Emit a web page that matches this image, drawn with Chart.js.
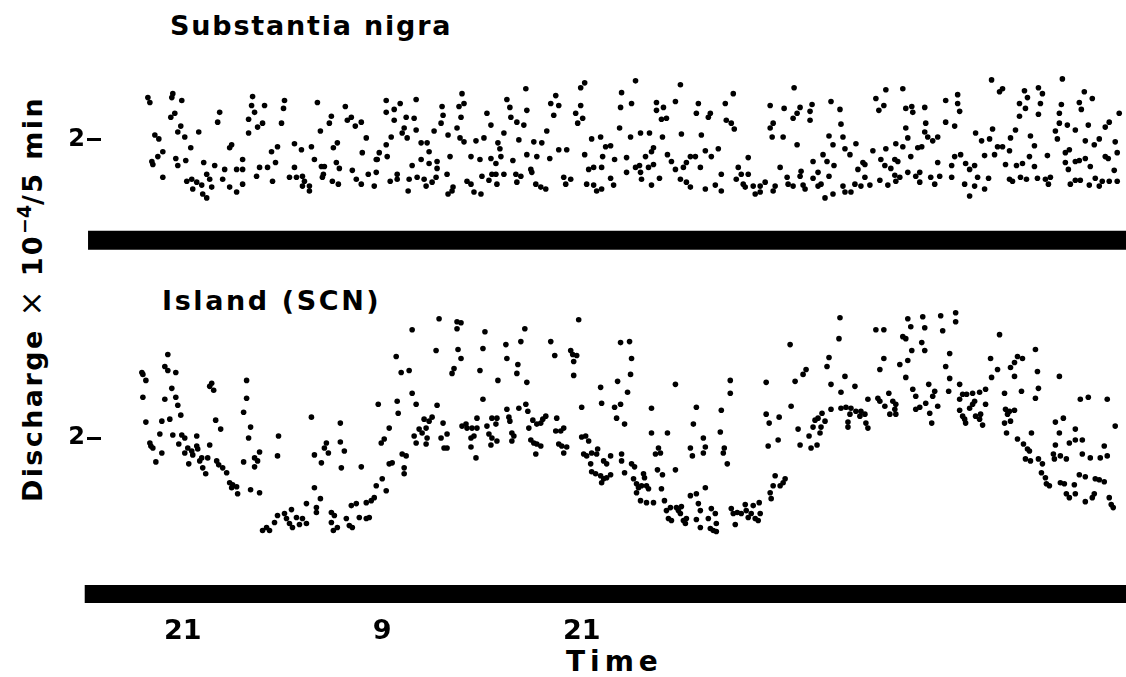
<!DOCTYPE html>
<html>
<head>
<meta charset="utf-8">
<script src="https://cdn.jsdelivr.net/npm/chart.js@4"></script>
<style>
  body { margin: 0; background: #fff; width: 1126px; height: 677px; position: relative; overflow: hidden; }
  canvas { position: absolute; left: 0; }
  #nigraChart { top: 0; }
  #scnChart { top: 265px; }
  .txt { position: absolute; font: bold 27px "DejaVu Sans", sans-serif; color: #000; white-space: nowrap; line-height: 1; letter-spacing: 1.8px; }
  #ylab { left: 31px; top: 299px; transform: translate(-50%, -50%) rotate(-90deg); letter-spacing: 2.4px; }
  #ylab sup { font-size: 0.7em; vertical-align: 0.55em; letter-spacing: 0; }
  #ylab .times { font-weight: normal; font-size: 1.15em; }
</style>
</head>
<body>
<div class="txt" style="left:170px; top:12px;">Substantia nigra</div>
<div class="txt" style="left:162px; top:287px; letter-spacing:2.6px;">Island (SCN)</div>
<div class="txt" id="ylab">Discharge <span class="times">×</span> 10<sup>−4</sup>/5 min</div>
<div class="txt" style="left:566px; top:648px; font-size:28px; letter-spacing:5px;">Time</div>
<canvas id="nigraChart" width="1126" height="265"></canvas>
<canvas id="scnChart" width="1126" height="412"></canvas>
<script>
// hours after 21:00 of the first evening, discharge x 10^-4 per 5 min
const nigraPoints = [
  [-2.10,2.43],[-1.98,2.38],[-0.60,2.47],[-0.66,2.43],[-0.06,2.40],[-0.48,2.27],[-0.72,2.23],[-0.12,2.14],[-0.30,2.08],[0.12,2.03],
  [-1.68,2.05],[-1.44,2.01],[0.96,2.08],[2.22,2.28],[2.10,2.18],[0.48,1.92],[-1.20,1.88],[-1.50,1.83],[-1.86,1.78],[-1.80,1.75],
  [-0.42,1.81],[0.18,1.79],[-0.30,1.74],[-1.20,1.62],[0.24,1.58],[0.54,1.60],[0.84,1.57],[1.14,1.54],[0.60,1.50],[1.20,1.45],
  [1.44,1.41],[1.26,1.77],[1.44,1.65],[1.62,1.60],[1.74,1.52],[1.92,1.74],[2.40,1.60],[2.52,1.70],[2.82,1.52],[3.24,1.47],
  [3.60,1.55],[3.60,1.70],[3.24,1.70],[2.82,1.92],[2.94,1.95],[3.60,1.80],[4.20,2.44],[4.14,2.35],[4.32,2.28],[3.96,2.21],
  [4.50,2.13],[3.96,2.07],[4.80,2.17],[4.92,2.35],[4.44,1.63],[4.62,1.72],[5.10,1.72],[5.40,1.58],[5.34,1.88],[5.70,1.93],
  [5.58,1.77],[6.12,2.40],[6.06,2.32],[5.94,2.17],[6.72,1.96],[7.14,1.90],[6.72,1.72],[6.42,1.62],[6.84,1.62],[7.20,1.63],
  [7.32,1.58],[7.20,1.53],[7.62,1.53],[7.62,1.48],[7.74,1.93],[7.92,1.80],[8.34,1.73],[8.52,1.73],[8.10,2.38],[8.28,2.09],
  [8.40,1.62],[8.46,1.65],[8.94,2.24],[8.82,2.17],[9.06,1.92],[9.30,1.97],[9.24,1.77],[9.42,1.71],[9.00,1.58],[9.36,1.55],
  [9.78,2.34],[9.90,2.20],[10.14,2.23],[10.38,2.14],[10.74,2.18],[11.04,2.02],[10.80,1.87],[10.20,1.69],[10.44,1.60],[10.74,1.55],
  [11.16,1.65],[11.52,1.53],[11.64,1.80],[12.24,2.40],[12.72,2.31],[13.08,2.37],[12.24,2.28],[14.04,2.41],[13.44,2.23],[13.92,2.22],
  [12.72,2.20],[13.32,2.12],[13.20,2.07],[13.50,2.02],[14.04,2.10],[12.54,2.03],[12.24,1.95],[11.82,1.87],[11.70,1.80],[12.30,1.83],
  [11.64,1.67],[12.90,1.65],[12.48,1.58],[12.90,1.60],[13.62,1.60],[13.56,1.48],[14.10,1.62],[14.52,1.60],[14.64,1.53],[15.00,1.57],
  [15.24,1.62],[14.34,1.97],[14.70,1.97],[14.82,1.88],[14.34,1.80],[14.82,1.76],[15.30,1.78],[15.30,1.71],[13.80,1.74],[15.12,2.09],
  [15.60,2.34],[15.66,2.25],[15.54,2.17],[15.96,2.05],[15.90,1.65],[15.96,1.45],[16.26,1.52],[16.20,1.48],[16.08,1.83],[16.80,2.47],
  [16.62,2.34],[16.92,2.37],[16.74,2.23],[16.50,2.12],[16.68,2.02],[16.92,1.98],[17.34,1.83],[17.10,1.58],[17.34,1.55],[17.52,1.47],
  [17.94,1.45],[17.64,1.99],[18.12,2.02],[17.88,1.80],[18.00,1.63],[18.42,1.59],[18.30,2.27],[18.54,2.15],[18.60,1.65],[18.84,1.65],
  [18.90,1.55],[18.54,1.81],[18.84,1.76],[19.14,1.83],[18.96,1.97],[19.08,1.91],[19.32,2.07],[19.32,1.65],[19.50,2.41],[19.68,2.33],
  [19.74,2.23],[20.10,2.18],[20.52,2.15],[20.70,2.30],[20.64,2.52],[20.22,2.00],[19.86,1.79],[20.04,1.65],[20.34,1.63],[20.10,1.57],
  [20.70,1.85],[20.94,1.70],[21.00,1.67],[21.30,1.83],[21.12,1.98],[21.60,1.97],[21.24,1.55],[21.54,1.52],[21.84,1.50],[21.90,2.09],
  [22.08,1.81],[22.14,2.37],[22.44,2.45],[22.62,2.35],[22.32,2.25],[22.62,1.90],[23.10,1.90],[22.92,1.62],[23.04,1.55],[23.34,1.60],
  [23.94,2.35],[23.64,2.27],[24.06,2.22],[23.76,2.17],[23.94,2.53],[24.18,2.58],[24.18,1.85],[24.42,1.70],[24.72,1.72],[25.20,1.72],
  [24.30,1.55],[24.72,1.54],[24.90,1.48],[25.20,1.50],[24.60,2.01],[25.14,2.03],[25.44,1.93],[25.74,1.94],[25.26,1.83],[25.98,1.80],
  [25.74,1.61],[25.92,1.54],[26.28,2.12],[26.40,2.48],[26.34,2.33],[27.24,2.60],[27.00,2.37],[26.94,2.03],[27.54,2.07],[28.08,2.07],
  [26.70,1.82],[27.84,1.83],[28.20,1.88],[28.32,1.92],[27.24,1.72],[27.48,1.74],[27.54,1.67],[26.70,1.67],[28.02,1.72],[28.32,1.75],
  [27.60,1.60],[28.20,1.54],[28.68,1.61],[28.50,2.38],[28.50,2.30],[28.92,2.33],[28.80,2.21],[29.10,2.22],[28.86,2.03],[29.16,1.85],
  [29.40,1.78],[29.64,2.39],[29.94,2.56],[30.00,2.06],[29.64,1.70],[30.12,1.72],[29.94,1.60],[30.30,1.57],[30.54,1.52],[30.30,1.77],
  [30.54,1.83],[30.84,1.83],[31.02,2.37],[30.90,2.27],[31.20,2.05],[31.44,1.89],[31.80,1.83],[32.22,1.91],[31.14,1.72],[31.44,1.50],
  [32.04,1.54],[32.40,1.48],[31.74,2.27],[31.62,2.23],[32.64,2.37],[33.12,2.47],[32.70,2.20],[33.00,2.17],[33.18,2.11],[32.40,1.65],
  [33.42,1.72],[33.30,1.60],[33.60,1.65],[33.72,1.55],[34.02,1.65],[34.02,1.82],[33.84,1.52],[34.32,1.53],[34.44,1.45],[34.74,1.53],
  [34.74,1.47],[35.04,1.57],[35.64,1.53],[35.52,1.48],[35.94,1.72],[35.34,2.35],[35.52,2.17],[35.34,2.12],[35.46,2.03],[36.12,2.03],
  [36.18,2.32],[36.36,1.62],[36.42,1.55],[36.72,1.53],[36.72,2.22],[36.96,2.27],[36.78,2.53],[37.14,2.33],[36.96,1.95],[37.20,1.68],
  [37.14,1.63],[37.32,1.54],[37.44,1.50],[37.74,2.29],[37.86,2.36],[37.74,2.20],[37.92,1.78],[37.92,1.61],[38.22,1.67],[38.22,1.53],
  [38.40,1.55],[38.52,1.85],[38.88,1.63],[38.64,1.41],[38.76,1.78],[39.18,1.74],[39.00,2.39],[39.54,2.31],[39.60,2.16],[39.12,1.95],
  [38.88,2.04],[39.72,2.03],[39.84,1.91],[40.14,1.85],[40.50,1.96],[39.12,1.45],[39.84,1.47],[40.20,1.47],[39.72,1.53],[40.44,1.55],
  [40.62,1.70],[40.92,1.77],[41.04,1.62],[40.80,1.53],[41.70,2.42],[42.30,2.51],[42.18,2.35],[41.88,2.30],[43.32,2.52],[43.50,2.32],
  [43.86,2.34],[43.92,2.28],[44.64,2.33],[44.70,2.17],[43.50,2.12],[44.64,2.08],[43.62,2.02],[44.82,2.03],[45.12,1.99],[45.42,2.03],
  [41.52,1.89],[42.30,1.91],[42.90,1.96],[43.32,1.93],[44.22,1.92],[44.46,1.93],[43.80,1.83],[41.04,1.75],[41.34,1.54],[41.94,1.59],
  [42.42,1.54],[42.00,1.80],[42.24,1.74],[42.84,1.80],[43.02,1.78],[42.60,1.71],[42.84,1.64],[43.14,1.62],[42.90,1.58],[43.62,1.67],
  [44.10,1.63],[44.34,1.67],[44.34,1.57],[45.00,1.62],[45.24,1.55],[45.54,1.63],[45.42,1.77],[46.26,1.74],[46.44,1.83],[46.80,1.85],
  [46.26,1.62],[47.04,1.55],[47.64,1.53],[47.82,1.62],[48.24,1.50],[47.34,1.43],[48.48,1.61],[47.34,1.70],[47.64,1.74],[47.10,1.76],
  [45.90,2.40],[46.62,2.46],[46.62,2.37],[46.74,2.29],[45.90,2.18],[46.44,2.14],[47.70,2.07],[48.06,1.99],[48.54,2.01],[48.72,2.11],
  [48.66,2.61],[49.14,2.49],[49.32,2.52],[49.02,1.93],[49.32,1.93],[49.74,1.89],[48.24,1.84],[48.84,1.85],[49.50,1.75],[49.74,1.60],
  [49.92,1.58],[50.40,1.62],[50.76,1.60],[50.16,1.74],[50.52,1.76],[50.94,1.83],[51.24,1.94],[49.80,2.02],[50.10,2.10],[50.34,2.24],
  [50.70,2.32],[50.34,2.37],[50.64,2.50],[50.82,2.43],[51.48,2.53],[51.72,2.47],[51.60,2.37],[51.48,2.26],[51.00,2.04],[52.02,1.84],
  [51.24,1.73],[51.90,1.60],[52.20,1.62],[52.08,1.55],[51.42,1.61],[52.92,2.62],[52.86,2.36],[52.74,2.27],[52.74,2.17],[52.50,2.09],
  [52.62,2.01],[53.22,2.15],[53.70,2.10],[53.10,1.87],[53.34,1.90],[53.10,1.77],[53.70,1.78],[53.94,1.79],[53.28,1.70],[53.40,1.55],
  [53.70,1.59],[54.00,1.59],[54.54,1.54],[54.90,1.61],[55.14,1.53],[55.32,1.58],[54.24,2.49],[54.72,2.42],[53.94,2.38],[54.06,2.31],
  [54.48,2.15],[54.30,1.99],[54.84,1.95],[55.14,2.01],[54.30,1.81],[54.60,1.73],[55.50,1.83],[55.68,1.81],[55.74,2.18],[56.34,2.27],
  [55.50,2.13],[56.10,1.98],[56.22,1.87],[56.04,1.69],[56.22,1.58],[55.74,1.58]
];

const scnPoints = [
  [-0.90,2.84],[-1.08,2.72],[-0.90,2.68],[-0.42,2.66],[-2.46,2.66],[-2.40,2.64],[-2.22,2.58],[-0.66,2.50],[-2.40,2.41],[-1.08,2.39],
  [-0.42,2.41],[-0.30,2.33],[-0.12,2.23],[-2.22,2.16],[-1.26,2.17],[-0.78,2.19],[-1.38,2.04],[-0.60,2.03],[-0.24,1.94],[-0.06,2.03],
  [0.12,2.00],[-1.98,1.95],[-1.80,1.90],[-1.92,1.92],[-1.26,1.85],[-1.62,1.76],[0.30,1.90],[0.54,1.87],[0.84,1.92],[0.90,1.89],
  [0.84,2.02],[0.12,1.85],[0.60,1.83],[1.14,1.80],[1.50,1.80],[1.62,1.93],[0.36,1.74],[1.02,1.77],[1.20,1.70],[1.38,1.64],
  [2.04,1.77],[2.16,1.73],[2.40,1.70],[2.64,1.65],[1.74,2.55],[1.62,2.52],[1.86,2.48],[1.98,2.18],[2.28,2.09],[2.82,1.55],
  [3.00,1.53],[3.24,1.51],[3.30,1.44],[2.94,1.50],[4.08,1.48],[4.62,1.45],[3.84,2.58],[3.84,2.40],[3.66,2.26],[4.08,2.11],
  [3.96,2.00],[3.66,1.76],[4.32,1.80],[4.50,1.77],[4.62,1.86],[4.32,1.71],[5.76,2.02],[5.70,1.82],[7.74,2.21],[8.64,1.95],
  [8.52,1.90],[8.76,1.85],[9.48,2.15],[9.48,1.96],[9.72,1.87],[7.92,1.83],[8.34,1.75],[9.54,1.70],[10.74,1.71],[7.92,1.50],
  [8.28,1.39],[7.44,1.34],[8.04,1.30],[8.04,1.25],[6.54,1.28],[6.12,1.24],[5.70,1.22],[5.52,1.15],[4.80,1.07],[5.04,1.10],
  [5.22,1.07],[6.24,1.19],[6.42,1.14],[6.84,1.20],[7.20,1.19],[7.02,1.13],[7.44,1.14],[6.60,1.10],[8.94,1.25],[9.12,1.22],
  [8.94,1.15],[9.06,1.07],[9.30,1.10],[9.84,1.19],[10.02,1.12],[10.20,1.10],[10.14,1.32],[10.44,1.34],[10.62,1.20],[11.04,1.19],
  [11.22,1.20],[11.04,1.35],[11.34,1.37],[11.52,1.40],[11.64,1.52],[11.76,2.34],[12.24,1.47],[12.00,1.59],[12.12,1.99],[11.94,1.95],
  [12.42,2.10],[12.84,2.82],[13.14,2.66],[13.62,2.68],[13.80,3.09],[12.90,2.37],[12.96,2.25],[13.80,2.45],[14.04,2.34],[12.42,1.74],
  [12.60,1.75],[13.20,1.84],[13.44,1.82],[13.32,1.70],[13.32,1.64],[13.92,2.02],[14.04,1.95],[14.22,2.09],[14.40,2.05],[14.64,2.10],
  [14.70,2.00],[14.64,1.94],[14.82,2.17],[15.00,2.21],[14.52,2.19],[15.30,2.33],[15.66,2.15],[15.54,2.00],[15.90,2.04],[15.24,2.88],
  [15.42,3.20],[16.20,2.65],[16.32,2.70],[16.50,3.17],[16.74,3.16],[16.50,3.10],[16.56,2.89],[16.74,2.80],[15.72,1.90],[15.90,1.90],
  [16.80,2.12],[17.10,2.10],[17.40,2.10],[17.70,2.10],[17.04,2.14],[17.34,2.00],[17.52,2.02],[17.34,1.91],[17.64,1.80],[17.70,2.20],
  [17.88,2.68],[18.06,2.39],[18.06,2.90],[18.18,3.07],[18.30,2.12],[18.42,2.04],[18.60,2.00],[18.90,1.97],[18.54,1.93],[18.60,2.20],
  [18.90,2.20],[18.84,2.14],[18.96,2.58],[19.44,2.94],[19.50,2.80],[19.50,2.29],[19.62,2.21],[19.68,2.17],[19.80,2.05],[19.92,2.02],
  [19.80,1.97],[20.22,2.30],[20.10,2.65],[20.16,2.74],[20.34,2.97],[20.58,3.10],[20.70,2.56],[20.64,2.34],[20.76,2.27],[21.06,2.18],
  [21.30,2.14],[21.54,2.15],[21.66,2.19],[21.84,2.22],[20.82,2.10],[20.94,1.98],[21.12,1.95],[21.30,1.94],[21.54,1.92],[21.24,1.84],
  [22.14,2.97],[22.38,2.83],[22.50,2.20],[22.44,2.07],[22.74,2.07],[22.92,2.10],[22.62,1.94],[22.80,1.92],[23.10,1.91],[22.92,1.85],
  [23.34,2.88],[23.46,2.84],[23.70,2.83],[23.52,2.77],[23.52,2.63],[23.82,3.19],[24.00,2.31],[24.00,2.01],[24.24,2.02],[24.42,1.97],
  [24.12,1.84],[24.30,1.82],[24.60,1.85],[24.90,1.84],[24.54,1.74],[24.60,1.66],[24.84,1.64],[25.14,1.62],[25.32,1.59],[25.50,1.60],
  [25.20,1.55],[24.96,1.89],[25.32,1.77],[25.50,1.74],[25.74,1.82],[25.74,1.63],[25.14,2.51],[25.20,2.35],[25.98,2.31],[26.10,2.20],
  [26.34,2.34],[26.16,2.57],[26.34,2.96],[26.40,1.84],[26.40,1.77],[26.88,2.97],[27.00,2.80],[26.94,2.64],[26.76,2.46],[26.58,2.14],
  [26.58,1.65],[27.00,1.74],[27.18,1.71],[27.12,1.59],[27.30,1.54],[27.42,1.50],[27.60,1.52],[27.90,1.52],[28.02,1.49],[27.30,1.45],
  [27.72,1.64],[27.78,1.60],[27.54,1.37],[27.90,1.35],[28.32,1.35],[28.20,2.30],[28.20,2.05],[29.16,2.05],[29.64,2.54],[28.62,1.90],
  [28.44,1.84],[28.74,1.85],[28.56,1.68],[28.86,1.63],[28.80,1.49],[29.64,1.68],[28.98,1.37],[29.10,1.27],[29.34,1.30],[29.22,1.19],
  [29.40,1.17],[29.70,1.30],[29.82,1.27],[30.00,1.31],[29.94,1.24],[30.12,1.17],[30.30,1.19],[30.24,1.14],[30.54,1.42],[30.90,1.44],
  [31.02,1.34],[31.14,1.27],[30.90,1.18],[31.14,1.10],[31.44,1.50],[31.62,1.19],[31.80,1.29],[32.04,1.24],[32.10,1.14],[31.74,1.09],
  [31.92,1.07],[32.10,1.06],[30.90,2.31],[30.72,2.14],[30.54,1.90],[30.66,1.82],[31.32,2.00],[31.44,1.91],[31.32,1.85],[32.40,2.28],
  [32.34,2.06],[32.58,1.90],[32.52,1.85],[32.76,1.74],[32.94,2.58],[32.94,2.45],[33.00,1.29],[33.12,1.24],[33.36,1.25],[33.60,1.24],
  [33.84,1.33],[33.90,1.27],[34.02,1.20],[34.20,1.24],[34.44,1.19],[34.74,1.24],[34.62,1.17],[33.24,1.13],[34.32,1.32],[34.68,1.35],
  [35.40,1.39],[35.34,1.45],[35.52,1.52],[35.64,1.62],[35.94,1.52],[36.12,1.55],[36.24,1.59],[35.10,2.56],[35.10,2.24],[35.28,2.15],
  [35.22,1.92],[35.82,1.98],[35.88,2.21],[36.54,2.94],[36.60,2.32],[36.84,2.57],[37.32,2.64],[37.50,2.69],[37.02,2.09],[37.14,1.93],
  [37.68,2.02],[37.80,1.90],[38.16,1.93],[37.92,2.11],[38.34,2.05],[38.40,2.11],[38.04,2.18],[38.22,2.20],[38.64,2.17],[38.46,2.25],
  [39.00,2.29],[38.76,2.72],[38.88,2.81],[39.00,2.54],[39.48,3.00],[39.54,3.21],[39.84,2.62],[39.60,2.46],[40.44,2.52],[39.60,2.30],
  [39.90,2.31],[40.20,2.30],[40.50,2.27],[40.80,2.27],[41.04,2.24],[40.74,2.22],[40.14,2.24],[40.02,2.16],[40.02,2.11],[41.22,2.39],
  [41.10,2.15],[41.22,2.10],[41.70,3.09],[42.18,3.09],[41.82,2.40],[41.94,2.37],[42.24,2.32],[42.48,2.45],[42.72,2.37],[42.90,2.34],
  [42.84,2.29],[42.54,2.24],[42.90,2.24],[41.94,2.69],[42.18,2.80],[43.62,3.20],[43.80,3.12],[44.52,3.22],[44.64,3.11],[45.60,3.23],
  [45.72,3.08],[46.50,3.26],[46.50,3.17],[43.32,3.02],[43.50,3.00],[44.46,2.96],[44.64,2.88],[43.86,2.88],[43.62,2.78],[43.14,2.74],
  [43.50,2.61],[43.92,2.49],[44.10,2.42],[44.88,2.54],[44.10,2.29],[44.34,2.31],[44.70,2.35],[44.94,2.25],[45.12,2.42],[45.24,2.47],
  [45.42,2.32],[45.06,2.15],[45.90,2.72],[46.14,2.85],[46.14,2.60],[46.08,2.47],[46.74,2.54],[46.92,2.44],[47.16,2.44],[47.52,2.45],
  [47.94,2.46],[48.30,2.49],[46.74,2.28],[46.92,2.22],[47.04,2.19],[47.34,2.30],[47.52,2.34],[47.64,2.37],[47.70,2.22],[48.00,2.24],
  [47.94,2.19],[48.12,2.13],[48.30,2.34],[47.10,2.15],[46.74,2.39],[48.60,2.80],[48.66,2.61],[49.02,2.69],[49.14,3.04],[49.44,2.45],
  [49.50,2.29],[49.62,2.24],[49.74,2.27],[50.04,2.28],[49.80,2.17],[49.44,2.15],[49.56,2.05],[49.80,2.71],[50.04,2.76],[50.04,2.62],
  [50.22,2.82],[50.52,2.80],[50.46,2.47],[51.30,2.89],[51.42,2.67],[51.48,2.50],[51.30,2.40],[50.22,1.99],[50.58,1.94],[50.82,1.89],
  [50.94,1.87],[50.70,1.79],[51.00,1.77],[51.48,1.79],[51.72,1.74],[51.06,2.05],[51.66,1.65],[51.90,1.60],[51.96,1.54],[52.14,1.52],
  [52.38,1.84],[52.44,1.79],[52.50,1.93],[52.50,2.16],[52.74,2.05],[52.98,2.20],[52.74,2.62],[52.80,1.82],[53.16,1.79],[52.80,1.55],
  [53.04,1.54],[53.16,1.44],[53.34,1.40],[53.34,1.95],[53.70,1.98],[53.70,2.09],[54.00,2.39],[54.48,2.41],[54.12,1.98],[53.70,1.44],
  [54.30,1.36],[54.72,1.40],[54.84,1.44],[53.94,1.63],[54.30,1.61],[54.90,1.59],[55.14,1.58],[55.44,1.56],[53.64,1.53],[54.12,1.84],
  [54.60,1.80],[55.20,1.80],[55.44,1.92],[55.62,1.82],[55.62,2.39],[56.10,2.12],[55.74,1.40],[55.86,1.33],[55.98,1.30]
];

// dark bars under each record: [start, end] in hours
const darkTop = [-5.7, 57];
const darkBottom = [-5.9, 57];

const clockStart = 21;          // clock hour at t = 0
const timeTicks = [0, 12, 24];  // labelled 21, 9, 21
const rateTicks = [2];

const xMin = -4.92, xMax = 56.58;
const AXIS_W = 101;
const font = { family: 'DejaVu Sans', weight: 'bold' };

function darkLine(span, level, width) {
  return {
    type: 'line',
    data: span.map(x => ({ x, y: level })),
    borderColor: '#000',
    borderWidth: width,
    borderCapStyle: 'butt',
    pointRadius: 0,
    clip: false
  };
}

function dots(points) {
  return {
    data: points.map(([x, y]) => ({ x, y })),
    backgroundColor: '#000',
    borderWidth: 0,
    pointRadius: 2.8,
    pointHoverRadius: 2.8
  };
}

// only the "2" tick, with a short dash beside it
function rateAxis(min, max) {
  return {
    min, max,
    afterFit(s) { s.width = AXIS_W; },
    afterBuildTicks(s) { s.ticks = rateTicks.map(value => ({ value })); },
    border: { display: false },
    grid: { drawOnChartArea: false, tickLength: 14, tickWidth: 3, tickColor: '#000' },
    ticks: { color: '#000', padding: 2, font: { ...font, size: 24, lineHeight: 1 } }
  };
}

const common = {
  responsive: false,
  animation: false,
  events: [],
  layout: { padding: 0 },
  plugins: { legend: { display: false }, tooltip: { enabled: false } }
};

// plot area of the upper record runs from 12 to 253 px
new Chart(document.getElementById('nigraChart'), {
  type: 'scatter',
  data: { datasets: [dots(nigraPoints), darkLine(darkTop, 0.98, 19)] },
  options: {
    ...common,
    scales: {
      x: { type: 'linear', min: xMin, max: xMax, display: false },
      y: rateAxis(0.87, 3.28)
    }
  }
});

new Chart(document.getElementById('scnChart'), {
  type: 'scatter',
  data: { datasets: [dots(scnPoints), darkLine(darkBottom, 0.43, 18)] },
  options: {
    ...common,
    scales: {
      x: {
        type: 'linear', min: xMin, max: xMax,
        afterFit(s) { s.height = 72; },
        afterBuildTicks(s) { s.ticks = timeTicks.map(value => ({ value })); },
        border: { display: false },
        grid: { display: false },
        ticks: {
          color: '#000', padding: 3, autoSkip: false, maxRotation: 0,
          font: { ...font, size: 27 },
          callback: v => String((clockStart + v) % 24)
        }
      },
      y: rateAxis(0.32, 3.60)
    }
  }
});
</script>
</body>
</html>
